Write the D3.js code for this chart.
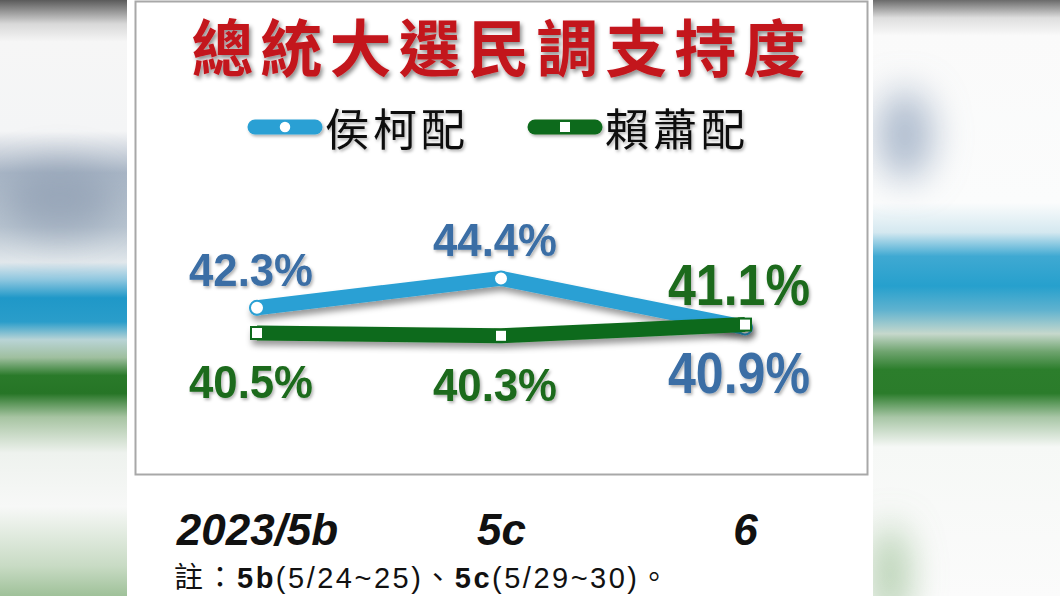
<!DOCTYPE html>
<html>
<head>
<meta charset="utf-8">
<script src="https://cdn.jsdelivr.net/npm/d3@7"></script>
<style>
  html, body { margin: 0; padding: 0; background: #fff; }
  svg { display: block; }
</style>
</head>
<body>
<div id="chart"></div>
<script>
// poll data
const categories = ["2023/5b", "5c", "6"];
const seriesNames = ["侯柯配", "賴蕭配"];
const houKo = [42.3, 44.4, 40.9];
const laiHsiao = [40.5, 40.3, 41.1];
const titleText = "總統大選民調支持度";
const noteParts = [
    { t: "註：", bold: false },
    { t: "5b", bold: true },
    { t: "(5/24~25)、", bold: false },
    { t: "5c", bold: true },
    { t: "(5/29~30)。", bold: false }
];

const width = 1060, height = 596;
const blue = "#2aa0d4", green = "#0e6b1c";
const blueText = "#3b6ea5", greenText = "#1b6b1b";

const svg = d3.select("#chart").append("svg")
    .attr("width", width)
    .attr("height", height);

const defs = svg.append("defs");

// blurred background bands on both sides
function vGrad(id, stops) {
    const g = defs.append("linearGradient").attr("id", id)
        .attr("x1", 0).attr("y1", 0).attr("x2", 0).attr("y2", 1);
    stops.forEach(s => g.append("stop").attr("offset", s[0]).attr("stop-color", s[1]));
}
vGrad("bgLeft", [
    [0, "#5a5a5a"], [0.04, "#d8d8d8"], [0.07, "#f6f6f6"], [0.22, "#f4f5f6"],
    [0.29, "#a9b6c6"], [0.38, "#b8c4d0"], [0.44, "#e2e8ec"], [0.47, "#8cc6df"],
    [0.5, "#1f98c8"], [0.54, "#2a9dca"], [0.57, "#b9d4d6"], [0.6, "#9fbf9f"],
    [0.63, "#2a7a2a"], [0.66, "#267526"], [0.7, "#a7c4a2"], [0.76, "#eef2ee"],
    [0.85, "#f7f8f7"], [0.95, "#c8dbc4"], [1, "#9fc199"]
]);
vGrad("bgRight", [
    [0, "#6a6a6a"], [0.03, "#dedede"], [0.06, "#fafafa"], [0.34, "#fbfcfc"],
    [0.39, "#d4e8f0"], [0.43, "#3fa9d2"], [0.48, "#26a0cd"], [0.52, "#5fb2cf"],
    [0.56, "#c6d8cc"], [0.59, "#6fa46f"], [0.62, "#2c7e2c"], [0.66, "#2b7c2b"],
    [0.7, "#a8c6a6"], [0.75, "#f6f8f6"], [1, "#fbfbfb"]
]);
const blur = defs.append("filter").attr("id", "bgBlur")
    .attr("x", "-50%").attr("y", "-50%").attr("width", "200%").attr("height", "200%");
blur.append("feGaussianBlur").attr("stdDeviation", 18);

svg.append("rect").attr("x", 0).attr("y", 0).attr("width", 127).attr("height", height)
    .attr("fill", "url(#bgLeft)");
svg.append("rect").attr("x", 873).attr("y", 0).attr("width", width - 873).attr("height", height)
    .attr("fill", "url(#bgRight)");
// soft blobs
const blobs = svg.append("g").attr("filter", "url(#bgBlur)");
blobs.append("ellipse").attr("cx", 905).attr("cy", 135).attr("rx", 28).attr("ry", 45)
    .attr("fill", "#9aabc2").attr("opacity", 0.8);
blobs.append("ellipse").attr("cx", 60).attr("cy", 200).attr("rx", 55).attr("ry", 35)
    .attr("fill", "#8898ad").attr("opacity", 0.6);
blobs.append("ellipse").attr("cx", 890).attr("cy", 575).attr("rx", 18).attr("ry", 50)
    .attr("fill", "#8fb888").attr("opacity", 0.7);

// white centre panel
svg.append("rect").attr("x", 127).attr("y", 0).attr("width", 746).attr("height", height)
    .attr("fill", "#ffffff");
svg.append("rect").attr("x", 135.5).attr("y", 1.5).attr("width", 732).attr("height", 473)
    .attr("fill", "#ffffff").attr("stroke", "#a8a8a8").attr("stroke-width", 2);

// shadows
const lineShadow = defs.append("filter").attr("id", "lineShadow")
    .attr("x", "-10%").attr("y", "-50%").attr("width", "120%").attr("height", "200%");
lineShadow.append("feDropShadow").attr("dx", 2).attr("dy", 5).attr("stdDeviation", 3)
    .attr("flood-color", "#000").attr("flood-opacity", 0.4);
const textShadow = defs.append("filter").attr("id", "textShadow")
    .attr("x", "-10%").attr("y", "-20%").attr("width", "120%").attr("height", "140%");
textShadow.append("feDropShadow").attr("dx", 1.5).attr("dy", 2).attr("stdDeviation", 1.5)
    .attr("flood-color", "#000").attr("flood-opacity", 0.3);
const titleShadow = defs.append("filter").attr("id", "titleShadow")
    .attr("x", "-10%").attr("y", "-20%").attr("width", "120%").attr("height", "140%");
titleShadow.append("feDropShadow").attr("dx", 2).attr("dy", 3).attr("stdDeviation", 2)
    .attr("flood-color", "#000").attr("flood-opacity", 0.45);

// title
svg.append("text")
    .attr("x", 502).attr("y", 72)
    .attr("text-anchor", "middle")
    .attr("font-family", "'Noto Sans CJK TC', sans-serif")
    .attr("font-weight", 700)
    .attr("font-size", 62)
    .attr("letter-spacing", 7)
    .attr("fill", "#c3151c")
    .attr("filter", "url(#titleShadow)")
    .text(titleText);

// scales
const x = d3.scalePoint().domain(categories).range([257, 745]);
const y = d3.scaleLinear().domain([40, 45]).range([340, 270]);

const series = [
    { name: seriesNames[0], values: houKo, color: blue, textColor: blueText, shape: "circle" },
    { name: seriesNames[1], values: laiHsiao, color: green, textColor: greenText, shape: "square" }
];

// legend
const legend = svg.append("g").attr("filter", "url(#textShadow)");
const legendX = [255, 535];
series.forEach((s, i) => {
    const g = legend.append("g").attr("transform", `translate(${legendX[i]},127)`);
    g.append("line").attr("x1", 0).attr("x2", 60).attr("y1", 0).attr("y2", 0)
        .attr("stroke", s.color).attr("stroke-width", 15).attr("stroke-linecap", "round");
    if (s.shape === "circle") {
        g.append("circle").attr("cx", 30).attr("cy", 0).attr("r", 6)
            .attr("fill", "#fff").attr("stroke", s.color).attr("stroke-width", 1.5);
    } else {
        g.append("rect").attr("x", 25).attr("y", -5).attr("width", 10).attr("height", 10)
            .attr("fill", "#fff");
    }
    g.append("text").attr("x", 70).attr("y", 19)
        .attr("font-family", "'Noto Sans CJK TC', sans-serif")
        .attr("font-size", 44)
        .attr("letter-spacing", 4)
        .attr("fill", "#111")
        .text(s.name);
});

// lines
const line = d3.line()
    .x((d, i) => x(categories[i]))
    .y(d => y(d));

const plot = svg.append("g");
series.forEach(s => {
    const g = plot.append("g").attr("filter", "url(#lineShadow)");
    g.append("path")
        .attr("d", line(s.values))
        .attr("fill", "none")
        .attr("stroke", s.color)
        .attr("stroke-width", 15)
        .attr("stroke-linejoin", "round")
        .attr("stroke-linecap", s.shape === "circle" ? "round" : "butt");
    if (s.shape === "circle") {
        g.selectAll("circle").data(s.values).enter().append("circle")
            .attr("cx", (d, i) => x(categories[i]))
            .attr("cy", d => y(d))
            .attr("r", 7)
            .attr("fill", "#fff")
            .attr("stroke", s.color)
            .attr("stroke-width", 2);
    } else {
        g.selectAll("rect").data(s.values).enter().append("rect")
            .attr("x", (d, i) => x(categories[i]) - 6)
            .attr("y", d => y(d) - 6)
            .attr("width", 12)
            .attr("height", 12)
            .attr("fill", "#fff")
            .attr("stroke", s.color)
            .attr("stroke-width", 2);
    }
});

// value labels: higher series above its point, lower series below
const labels = svg.append("g").attr("filter", "url(#textShadow)");
categories.forEach((c, i) => {
    const vals = series.map(s => s.values[i]);
    const top = vals[0] >= vals[1] ? 0 : 1;
    const last = i === categories.length - 1;
    series.forEach((s, k) => {
        const v = s.values[i];
        const above = k === top;
        labels.append("text")
            .attr("x", x(c) - 6)
            .attr("y", above ? y(v) - (last ? 20 : 22) : y(v) + (last ? 66 : 65))
            .attr("text-anchor", "middle")
            .attr("font-family", "'Liberation Sans', Arial, sans-serif")
            .attr("font-weight", 700)
            .attr("font-size", last ? 58 : 47)
            .attr("textLength", last ? 142 : 124)
            .attr("lengthAdjust", "spacingAndGlyphs")
            .attr("fill", s.textColor)
            .text(v.toFixed(1) + "%");
    });
});

// x axis
const xAxis = svg.append("g")
    .attr("transform", "translate(0,545)")
    .call(d3.axisBottom(x).tickSize(0).tickPadding(0));
xAxis.select(".domain").remove();
xAxis.selectAll("text")
    .attr("dy", 0)
    .attr("y", 0)
    .attr("font-family", "'Liberation Sans', Arial, sans-serif")
    .attr("font-size", 44)
    .attr("font-weight", 700)
    .attr("font-style", "italic")
    .attr("fill", "#111");

// note
const note = svg.append("text")
    .attr("x", 174).attr("y", 588)
    .attr("font-family", "'Liberation Sans', 'Noto Sans CJK TC', sans-serif")
    .attr("font-size", 29)
    .attr("letter-spacing", 2.5)
    .attr("fill", "#111");
noteParts.forEach(p => {
    note.append("tspan")
        .attr("font-weight", p.bold ? 700 : 400)
        .attr("font-family", p.t === "註：" ? "'Noto Sans CJK TC', sans-serif" : null)
        .text(p.t);
});
</script>
</body>
</html>
